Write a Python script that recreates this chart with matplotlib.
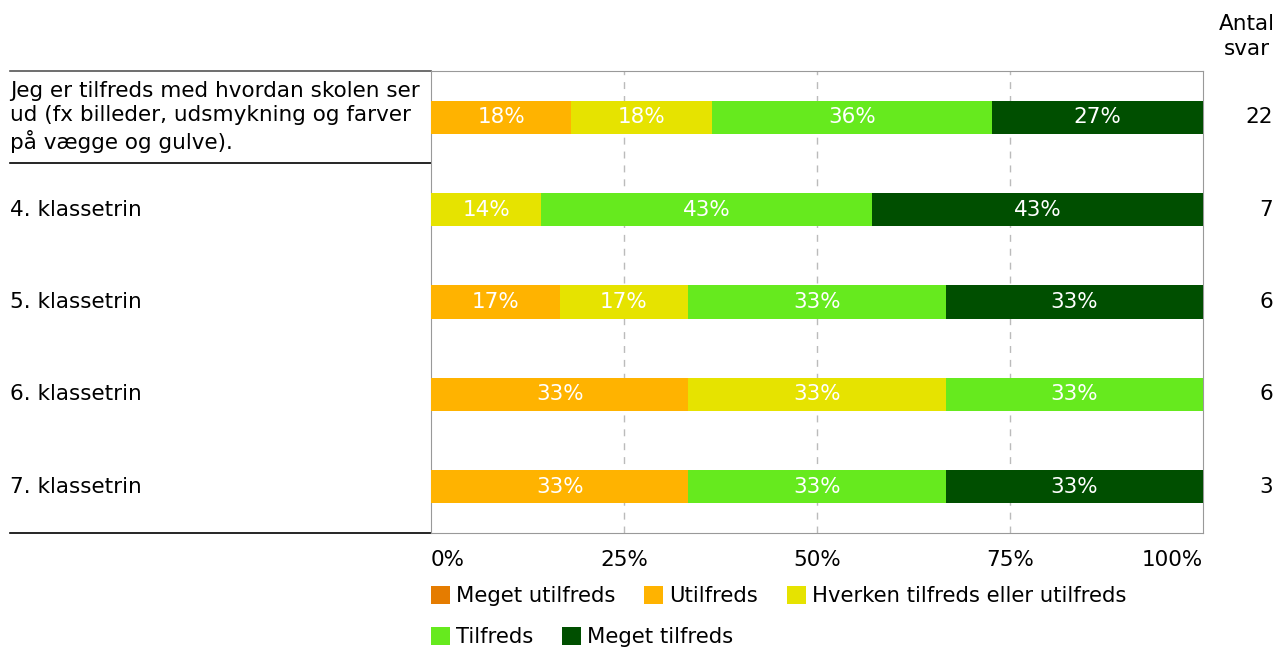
import matplotlib.pyplot as plt
from matplotlib.transforms import blended_transform_factory
from matplotlib.patches import Patch

plt.rcParams['font.family'] = ['DejaVu Sans']

categories = ['Jeg er tilfreds med hvordan skolen ser\nud (fx billeder, udsmykning og farver\npå vægge og gulve).',
              '4. klassetrin', '5. klassetrin', '6. klassetrin', '7. klassetrin']
answers = [22, 7, 6, 6, 3]
series = ['Meget utilfreds', 'Utilfreds', 'Hverken tilfreds eller utilfreds', 'Tilfreds', 'Meget tilfreds']
colors = ['#E57C00', '#FFB300', '#E6E300', '#66EA1E', '#004F00']
# number of answers per response option
meget_utilfreds = [0, 0, 0, 0, 0]
utilfreds = [4, 0, 1, 2, 1]
hverken = [4, 1, 1, 2, 0]
tilfreds = [8, 3, 2, 2, 1]
meget_tilfreds = [6, 3, 2, 0, 1]
counts = [meget_utilfreds, utilfreds, hverken, tilfreds, meget_tilfreds]

fs = 15.5
fig = plt.figure(figsize=(12.79, 6.51), dpi=100)
ax = fig.add_axes([431 / 1279, 1 - 533 / 651, 772 / 1279, 462 / 651])

ypos = list(range(len(categories)))
left = [0.0] * len(categories)
for s, c, vals in zip(series, colors, counts):
    pct = [100.0 * v / n for v, n in zip(vals, answers)]
    ax.barh(ypos, pct, left=left, height=0.36, color=c, zorder=3)
    for i, p in enumerate(pct):
        if p > 0:
            ax.text(left[i] + p / 2, i, f'{p:.0f}%', color='white', ha='center', va='center',
                    fontsize=fs, zorder=4)
    left = [l + p for l, p in zip(left, pct)]

ax.set_xlim(0, 100)
ax.set_ylim(len(categories) - 0.5, -0.5)
ax.set_yticks([])
ax.set_xticks([0, 25, 50, 75, 100])
ax.set_xticklabels(['0%', '25%', '50%', '75%', '100%'], fontsize=fs)
ax.tick_params(axis='x', length=0, pad=12)
labs = ax.get_xticklabels()
labs[0].set_ha('left')
labs[-1].set_ha('right')
for x in [25, 50, 75]:
    ax.axvline(x, color='#BBBBBB', linestyle=(0, (5, 5)), linewidth=1, zorder=1)
for sp in ax.spines.values():
    sp.set_color('#999999')

# row labels, counts and separator lines
tr = blended_transform_factory(fig.transFigure, ax.transData)
for i, (cat, n) in enumerate(zip(categories, answers)):
    ax.text(10 / 1279, i, cat, transform=tr, ha='left', va='center', fontsize=fs, linespacing=1.25)
    ax.text(1273 / 1279, i, str(n), transform=tr, ha='right', va='center', fontsize=fs)
x0, x1 = 10 / 1279, 431 / 1279
ax.plot([x0, x1], [-0.5, -0.5], transform=tr, color='#555555', lw=1.2, clip_on=False)
ax.plot([x0, x1], [0.5, 0.5], transform=tr, color='black', lw=1.2, clip_on=False)
ax.plot([x0, x1], [4.5, 4.5], transform=tr, color='black', lw=1.2, clip_on=False)

fig.text(1247 / 1279, 1 - 14 / 651, 'Antal\nsvar', ha='center', va='top', fontsize=fs, linespacing=1.3)

handles = [Patch(facecolor=c) for c in colors]
kw = dict(loc='center left', frameon=False, fontsize=15.2, handlelength=0.9, handleheight=0.9,
          handletextpad=0.3, columnspacing=1.35, borderaxespad=0, borderpad=0)
fig.legend(handles[:3], series[:3], ncol=3, bbox_to_anchor=(431 / 1279, 1 - 596 / 651), **kw)
fig.legend(handles[3:], series[3:], ncol=2, bbox_to_anchor=(431 / 1279, 1 - 637 / 651), **kw)

fig.savefig('out.png', dpi=100)
